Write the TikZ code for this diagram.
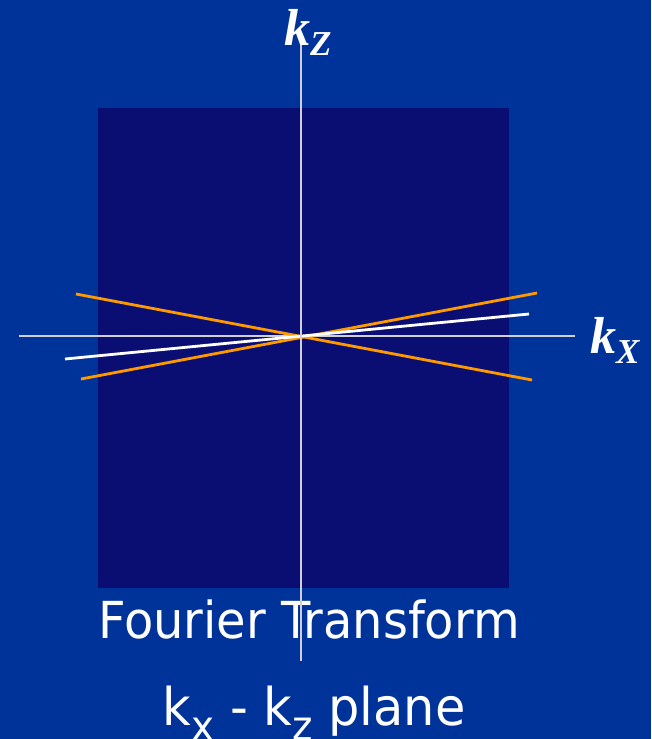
\documentclass[tikz,border=0pt]{standalone}
\usepackage{fontspec}
\setmainfont{Liberation Serif}
\newfontfamily\labelfont{DejaVu Sans}
\definecolor{bgblue}{RGB}{0,51,153}
\definecolor{innerblue}{RGB}{10,14,115}
\definecolor{axisgray}{RGB}{208,208,212}
\definecolor{korange}{RGB}{255,153,0}
\tikzset{
  axisline/.style={draw=axisgray, line width=2.8pt},
  orangeline/.style={draw=korange, line width=2.8pt},
  whiteline/.style={draw=white, line width=2.8pt},
  klabel/.style={text=white, inner sep=0pt, anchor=base west, font=\bfseries\itshape},
  caption/.style={text=white, inner sep=0pt, anchor=base, font=\labelfont\fontsize{51}{51}\selectfont},
  subcaption/.style={text=white, inner sep=0pt, anchor=base, font=\labelfont\fontsize{52}{52}\selectfont}
}
\newcommand{\kwithsub}[1]{{\fontsize{52}{52}\selectfont k}\raisebox{-10pt}{\fontsize{35}{35}\selectfont #1}}
\newcommand{\lowsub}[1]{\raisebox{-15pt}{\fontsize{41}{41}\selectfont #1}}
\begin{document}
\begin{tikzpicture}[x=1pt,y=-1pt]
\fill[bgblue] (0,0) rectangle (651,739);
\useasboundingbox (0,0) rectangle (651,739);
\fill[innerblue] (98,108) rectangle (509,588);
\coordinate (o) at (301,336);
\coordinate (h1) at (19,336);
\coordinate (h2) at (575,336);
\coordinate (v1) at (301,45);
\coordinate (v2) at (301,661);
\coordinate (a1) at (76,294);
\coordinate (a2) at (532,380);
\coordinate (b1) at (81,379);
\coordinate (b2) at (537,293);
\coordinate (w1) at (65,359);
\coordinate (w2) at (529,314);
\draw[axisline] (h1) -- (h2);
\draw[orangeline] (a1) -- (a2);
\draw[orangeline] (b1) -- (b2);
\draw[whiteline] (w1) -- (w2);
\node[caption] (ft) at (309,638) {\scalebox{0.94}[1]{Fourier Transform}};
\node[subcaption] (pl) at (314,725) {\scalebox{0.95}[1]{k\lowsub{x} - k\lowsub{z} plane}};
\draw[axisline] (v1) -- (v2);
\node[klabel] (kz) at (284,45) {\kwithsub{Z}};
\node[klabel] (kx) at (590,353) {\kwithsub{X}};
\end{tikzpicture}
\end{document}
